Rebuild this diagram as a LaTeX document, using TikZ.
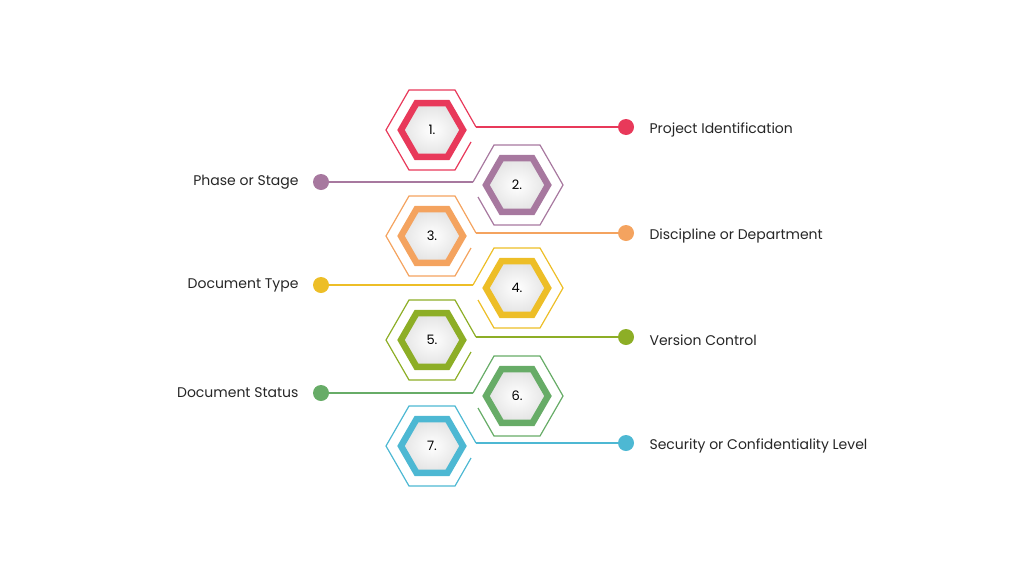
\documentclass[tikz,border=0pt]{standalone}
\usepackage{fontspec}
\setmainfont{Poppins}
\usetikzlibrary{shapes.geometric}
\definecolor{cA}{HTML}{E8395A}
\definecolor{cB}{HTML}{A7789F}
\definecolor{cC}{HTML}{F4A35F}
\definecolor{cD}{HTML}{EDBE27}
\definecolor{cE}{HTML}{8DAE26}
\definecolor{cF}{HTML}{67AC67}
\definecolor{cG}{HTML}{4DB8D3}
\tikzset{
  hexcore/.style={regular polygon, regular polygon sides=6, minimum size=62pt,
    inner sep=0pt, line width=6.5pt, inner color=white, outer color=gray!22,
    font=\fontsize{13}{15}\selectfont},
  dot/.style={circle, minimum size=16pt, inner sep=0pt},
  label/.style={font=\fontsize{14}{16}\selectfont, text=black!85}
}
\begin{document}
\begin{tikzpicture}[x=1pt, y=-1pt]
\useasboundingbox (0,0) rectangle (1024,576);

% hexagons with connectors to the right
\foreach \n/\cx/\cy/\col/\txt in {1/432/130/cA/Project Identification,
    3/432/236/cC/Discipline or Department,
    5/432/340/cE/Version Control,
    7/432/446/cG/Security or Confidentiality Level}{
  \draw[\col, line width=1.2pt] (\cx+39,\cy+12) -- (\cx+23,\cy+40) -- (\cx-23,\cy+40)
    -- (\cx-46,\cy) -- (\cx-23,\cy-40) -- (\cx+23,\cy-40) -- (\cx+44,\cy-3)
    coordinate (e\n);
  \node[hexcore, draw=\col] (h\n) at (\cx,\cy) {\n.};
  \node[dot, fill=\col] (d\n) at (626,\cy-3) {};
  \draw[\col, line width=1.2pt] (e\n) -- (d\n);
  \node[label, anchor=west] (t\n) at (646,\cy) {\txt};
}

% hexagons with connectors to the left
\foreach \n/\cx/\cy/\col/\txt in {2/517/185/cB/Phase or Stage,
    4/517/288/cD/Document Type,
    6/517/396/cF/Document Status}{
  \draw[\col, line width=1.2pt] (\cx-39,\cy+12) -- (\cx-23,\cy+40) -- (\cx+23,\cy+40)
    -- (\cx+46,\cy) -- (\cx+23,\cy-40) -- (\cx-23,\cy-40) -- (\cx-44,\cy-3)
    coordinate (e\n);
  \node[hexcore, draw=\col] (h\n) at (\cx,\cy) {\n.};
  \node[dot, fill=\col] (d\n) at (321,\cy-3) {};
  \draw[\col, line width=1.2pt] (e\n) -- (d\n);
  \node[label, anchor=east] (t\n) at (302,\cy-3) {\txt};
}

\end{tikzpicture}
\end{document}
